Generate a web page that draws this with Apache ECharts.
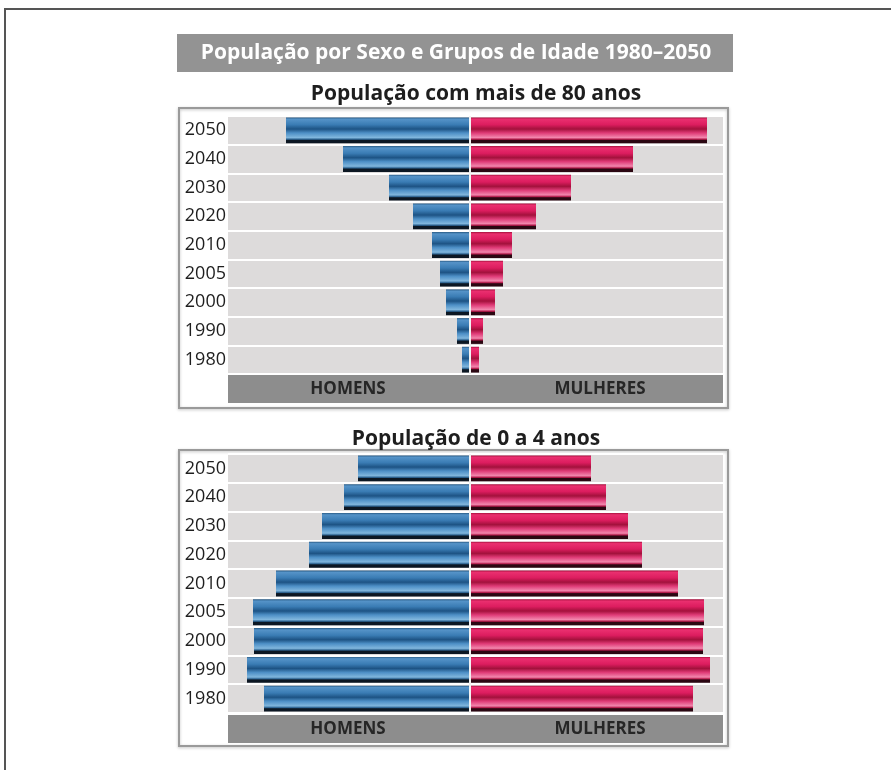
<!DOCTYPE html>
<html>
<head>
<meta charset="utf-8">
<script src="https://cdn.jsdelivr.net/npm/echarts@6/dist/echarts.min.js"></script>
<style>
html,body{margin:0;padding:0;background:#fff;}
#chart{width:891px;height:770px;}
</style>
</head>
<body>
<div id="chart"></div>
<script>
// ---- data (arbitrary units) ----
var years = ['1980','1990','2000','2005','2010','2020','2030','2040','2050'];
var menOver80   = [8, 13, 24, 30, 38, 57, 81, 127, 184];
var womenOver80 = [9, 13, 25, 33, 42, 66, 101, 163, 237];
var men0to4     = [206, 223, 216, 217, 194, 161, 148, 126, 112];
var women0to4   = [223, 240, 233, 234, 208, 172, 158, 136, 121];

var mainTitle = 'População por Sexo e Grupos de Idade 1980–2050';
var subTitleTop = 'População com mais de 80 anos';
var subTitleBottom = 'População de 0 a 4 anos';
var leftLabel = 'HOMENS';
var rightLabel = 'MULHERES';

var FONT = '"Open Sans", "Noto Sans", sans-serif';

var blue = new echarts.graphic.LinearGradient(0,0,0,1,[
  {offset:0, color:'#2a5c86'},
  {offset:0.07, color:'#5593c8'},
  {offset:0.28, color:'#3a7cb4'},
  {offset:0.45, color:'#1d5384'},
  {offset:0.6, color:'#4d8fc6'},
  {offset:0.78, color:'#80b6dd'},
  {offset:0.85, color:'#2c6290'},
  {offset:0.89, color:'#0c1723'},
  {offset:1, color:'#0c1723'}
]);
var pink = new echarts.graphic.LinearGradient(0,0,0,1,[
  {offset:0, color:'#a8123f'},
  {offset:0.07, color:'#ea2f6f'},
  {offset:0.28, color:'#dc1d5f'},
  {offset:0.45, color:'#a3113c'},
  {offset:0.6, color:'#df3a76'},
  {offset:0.78, color:'#f286ad'},
  {offset:0.85, color:'#b3194a'},
  {offset:0.89, color:'#2b0712'},
  {offset:1, color:'#2b0712'}
]);

function neg(a){ return a.map(function(v){ return -v; }); }

var grids = [
  {left:228, right:168, top:116, height:258, show:true, backgroundColor:'#dddbdb', borderWidth:0},
  {left:228, right:168, top:454, height:259, show:true, backgroundColor:'#dddbdb', borderWidth:0}
];

function xAx(i){
  return {gridIndex:i, type:'value', min:-242, max:253, show:false, splitLine:{show:false}};
}
function yAx(i){
  return {
    gridIndex:i, type:'category', data:years,
    axisLine:{show:false}, axisTick:{show:false},
    axisLabel:{color:'#1e1e1e', fontSize:18, fontFamily:FONT, margin:2},
    splitLine:{show:true, lineStyle:{color:'#ffffff', width:2}}
  };
}
function barSeries(i, data, color, stack, withMark){
  var s = {
    type:'bar', xAxisIndex:i, yAxisIndex:i, stack:stack, data:data,
    barWidth:'90%', itemStyle:{color:color}, silent:true
  };
  if (withMark) {
    s.markLine = {silent:true, symbol:'none', label:{show:false},
      lineStyle:{color:'#f2f2f2', width:2, type:'solid'},
      data:[{xAxis:0}]};
  }
  return s;
}

function footer(y){
  return [
    {type:'rect', shape:{x:228, y:y, width:495, height:28}, style:{fill:'#8d8d8d'}},
    {type:'text', x:348, y:y+14, style:{text:leftLabel, fill:'#262626', font:'bold 17px '+FONT, textAlign:'center', textVerticalAlign:'middle'}},
    {type:'text', x:600, y:y+14, style:{text:rightLabel, fill:'#262626', font:'bold 17px '+FONT, textAlign:'center', textVerticalAlign:'middle'}}
  ];
}

var chart = echarts.init(document.getElementById('chart'), null, {renderer:'canvas'});
chart.setOption({
  backgroundColor:'#ffffff',
  animation:false,
  title:[
    {text:subTitleTop, left:471, top:79, textAlign:'center',
     textStyle:{fontSize:21, fontWeight:'bold', color:'#1e1e1e', fontFamily:FONT}},
    {text:subTitleBottom, left:471, top:424, textAlign:'center',
     textStyle:{fontSize:21, fontWeight:'bold', color:'#1e1e1e', fontFamily:FONT}}
  ],
  graphic:[
    {type:'polyline', shape:{points:[[5,770],[5,9],[891,9]]}, style:{stroke:'#555', lineWidth:2, fill:null}},
    {type:'rect', shape:{x:177, y:34, width:556, height:38}, style:{fill:'#939393'}},
    {type:'text', x:456, y:53, style:{text:mainTitle, fill:'#ffffff', font:'bold 21px '+FONT, textAlign:'center', textVerticalAlign:'middle'}},
    {type:'rect', shape:{x:179, y:108, width:549, height:300}, style:{fill:null, stroke:'#9a9a9a', lineWidth:2, shadowColor:'rgba(0,0,0,0.25)', shadowBlur:3, shadowOffsetY:1}},
    {type:'rect', shape:{x:179, y:450, width:549, height:296}, style:{fill:null, stroke:'#9a9a9a', lineWidth:2, shadowColor:'rgba(0,0,0,0.25)', shadowBlur:3, shadowOffsetY:1}}
  ].concat(footer(375)).concat(footer(715)),
  grid:grids,
  xAxis:[xAx(0), xAx(1)],
  yAxis:[yAx(0), yAx(1)],
  series:[
    barSeries(0, neg(menOver80), blue, 'a', false),
    barSeries(0, womenOver80, pink, 'a', true),
    barSeries(1, neg(men0to4), blue, 'b', false),
    barSeries(1, women0to4, pink, 'b', true)
  ]
});
</script>
</body>
</html>
